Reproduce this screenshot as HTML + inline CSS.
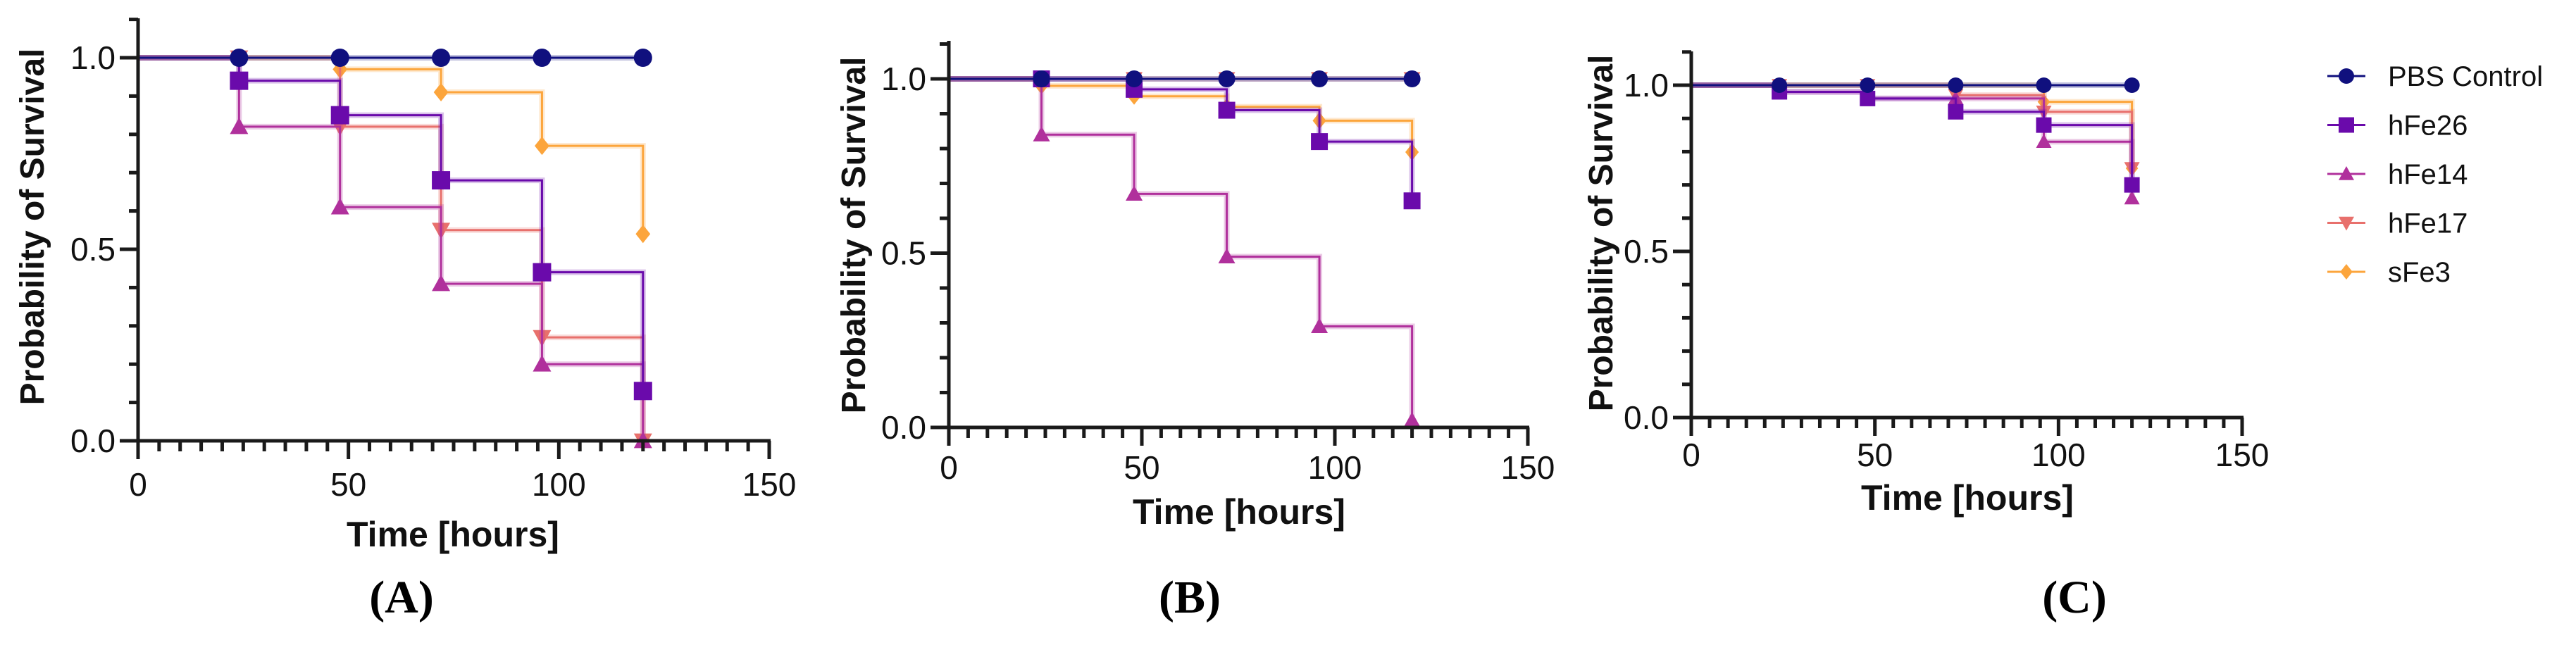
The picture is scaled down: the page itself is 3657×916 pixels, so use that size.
<!DOCTYPE html>
<html><head><meta charset="utf-8">
<style>
html,body{margin:0;padding:0;background:#fff;}
svg{display:block;}
text{font-family:"Liberation Sans",sans-serif;}
</style></head>
<body>
<svg id="chart" width="3657" height="916" viewBox="0 0 3657 916" xmlns="http://www.w3.org/2000/svg"></svg>
<script>
const times = [0, 24, 48, 72, 96, 120];
const seriesNames = ["PBS Control", "hFe26", "hFe14", "hFe17", "sFe3"];
const xTickLabels = ["0", "50", "100", "150"];
const yTickLabels = ["0.0", "0.5", "1.0"];
// Panel A
const aPBS   = [1, 1, 1, 1, 1, 1];
const aHFe26 = [1, 0.94, 0.85, 0.68, 0.44, 0.13];
const aHFe14 = [1, 0.82, 0.61, 0.41, 0.20, 0.0];
const aHFe17 = [1, 1, 0.82, 0.55, 0.27, 0.0];
const aSFe3  = [1, 1, 0.97, 0.91, 0.77, 0.54];
// Panel B
const bPBS   = [1, 1, 1, 1, 1, 1];
const bHFe26 = [1, 1, 0.97, 0.91, 0.82, 0.65];
const bHFe14 = [1, 0.84, 0.67, 0.49, 0.29, 0.02];
const bHFe17 = [1, 1, 1, 1, 1, 1];
const bSFe3  = [1, 0.98, 0.95, 0.92, 0.88, 0.79];
// Panel C
const cPBS   = [1, 1, 1, 1, 1, 1];
const cHFe26 = [1, 0.98, 0.96, 0.92, 0.88, 0.70];
const cHFe14 = [1, 0.98, 0.96, 0.96, 0.83, 0.66];
const cHFe17 = [1, 1, 1, 0.97, 0.92, 0.75];
const cSFe3  = [1, 1, 1, 1, 0.95, 0.75];

const colors = ["#10107e", "#6a0aab", "#b0309c", "#e8706c", "#fca53c"];
const markers = ["circle", "square", "triangle", "tridown", "diamond"];
const NS = "http://www.w3.org/2000/svg";
const svg = document.getElementById("chart");

function mk(tag, attrs, parent) {
  const e = document.createElementNS(NS, tag);
  for (const k in attrs) e.setAttribute(k, attrs[k]);
  (parent || svg).appendChild(e);
  return e;
}

function marker(g, type, cx, cy, color, s) {
  let e;
  if (type === "circle") e = mk("circle", {cx: cx, cy: cy, r: s}, g);
  else if (type === "square") e = mk("rect", {x: cx - s, y: cy - s, width: 2 * s, height: 2 * s}, g);
  else if (type === "triangle") e = mk("polygon", {points: `${cx},${cy - s} ${cx - s},${cy + s * 0.8} ${cx + s},${cy + s * 0.8}`}, g);
  else if (type === "tridown") e = mk("polygon", {points: `${cx},${cy + s} ${cx - s},${cy - s * 0.8} ${cx + s},${cy - s * 0.8}`}, g);
  else e = mk("polygon", {points: `${cx},${cy - s} ${cx + s * 0.8},${cy} ${cx},${cy + s} ${cx - s * 0.8},${cy}`}, g);
  e.setAttribute("fill", color);
  return e;
}

function panel(p) {
  const g = mk("g", {});
  
  
  const xs = v => p.x0 + (v / 150) * (p.x1 - p.x0);
  const ys = v => p.y0 - v * (p.y0 - p.y1);
  const data = p.series;
  for (let si = data.length - 1; si >= 0; si--) {
    const vals = data[si];
    const sg = mk("g", {}, g);
    
    
    let d = `M${xs(times[0])},${ys(vals[0])}`;
    for (let i = 1; i < times.length; i++) {
      d += ` H${xs(times[i])} V${ys(vals[i])}`;
    }
    mk("path", {d: d, fill: "none", stroke: colors[si], "stroke-width": 8, "stroke-opacity": 0.25}, sg);
    const path = mk("path", {d: d, fill: "none", stroke: colors[si], "stroke-width": 3}, sg);
    
    
    for (let i = 1; i < times.length; i++) {
      const m = marker(sg, markers[si], xs(times[i]), ys(vals[i]), colors[si], p.ms);
      
      
    }
  }
  const ax = mk("g", {stroke: "#1a1a1a", "stroke-width": 5}, g);
  
  
  mk("line", {x1: p.x0, y1: p.yTop, x2: p.x0, y2: p.y0 + 2}, ax);
  mk("line", {x1: p.x0 - 2, y1: p.y0, x2: p.x1 + 2, y2: p.y0}, ax);
  for (let v = 0; v <= 150; v += 5) {
    const major = v % 50 === 0;
    mk("line", {x1: xs(v), y1: p.y0, x2: xs(v), y2: p.y0 + (major ? 26 : 15)}, ax);
  }
  for (let k = 0; k <= 11; k++) {
    const v = k / 10;
    const major = k % 5 === 0;
    mk("line", {x1: p.x0, y1: ys(v), x2: p.x0 - (major ? 26 : 13), y2: ys(v)}, ax);
  }
  xTickLabels.forEach((t, i) => {
    const tx = mk("text", {x: xs(+t), y: p.xLabY, "text-anchor": "middle", "font-size": 46, fill: "#111"}, g);
    tx.textContent = t;
    
    
  });
  yTickLabels.forEach((t, i) => {
    const tx = mk("text", {x: p.x0 - 32, y: ys(+t) + 16, "text-anchor": "end", "font-size": 46, fill: "#111"}, g);
    tx.textContent = t;
    
    
  });
  const xt = mk("text", {x: p.xtX, y: p.xtY, "text-anchor": "middle", "font-size": 50, "font-weight": "bold", fill: "#111"}, g);
  xt.textContent = "Time [hours]";
  
  
  const yt = mk("text", {x: 0, y: 0, "text-anchor": "middle", "font-size": 48, "font-weight": "bold", fill: "#111",
    transform: `translate(${p.ytX},${p.ytY}) rotate(-90)`}, g);
  yt.textContent = "Probability of Survival";
  
  
  const pl = mk("text", {x: p.plX, y: 870, "text-anchor": "middle", "font-size": 66, "font-weight": "bold", fill: "#000",
    style: 'font-family:"Liberation Serif",serif'}, g);
  pl.textContent = "(" + p.id + ")";
  
  
}

panel({id: "A", x0: 196, x1: 1092, y0: 626, y1: 82, yTop: 26, ms: 13,
  series: [aPBS, aHFe26, aHFe14, aHFe17, aSFe3],
  xLabY: 704, xtX: 643, xtY: 776, ytX: 62, ytY: 322, plX: 570});
panel({id: "B", x0: 1347, x1: 2169, y0: 607, y1: 112, yTop: 58, ms: 12,
  series: [bPBS, bHFe26, bHFe14, bHFe17, bSFe3],
  xLabY: 680, xtX: 1759, xtY: 744, ytX: 1228, ytY: 334, plX: 1689});
panel({id: "C", x0: 2401, x1: 3183, y0: 593, y1: 121, yTop: 73, ms: 11,
  series: [cPBS, cHFe26, cHFe14, cHFe17, cSFe3],
  xLabY: 662, xtX: 2793, xtY: 724, ytX: 2289, ytY: 331, plX: 2945});

const lg = mk("g", {});


seriesNames.forEach((n, i) => {
  const y = 108 + i * 69.5;
  const eg = mk("g", {}, lg);
  
  
  mk("line", {x1: 3304, y1: y, x2: 3358, y2: y, stroke: colors[i], "stroke-width": 3}, eg);
  marker(eg, markers[i], 3331, y, colors[i], 11);
  const t = mk("text", {x: 3390, y: y + 14, "font-size": 40, fill: "#111"}, eg);
  t.textContent = n;
});
</script>
</body></html>
